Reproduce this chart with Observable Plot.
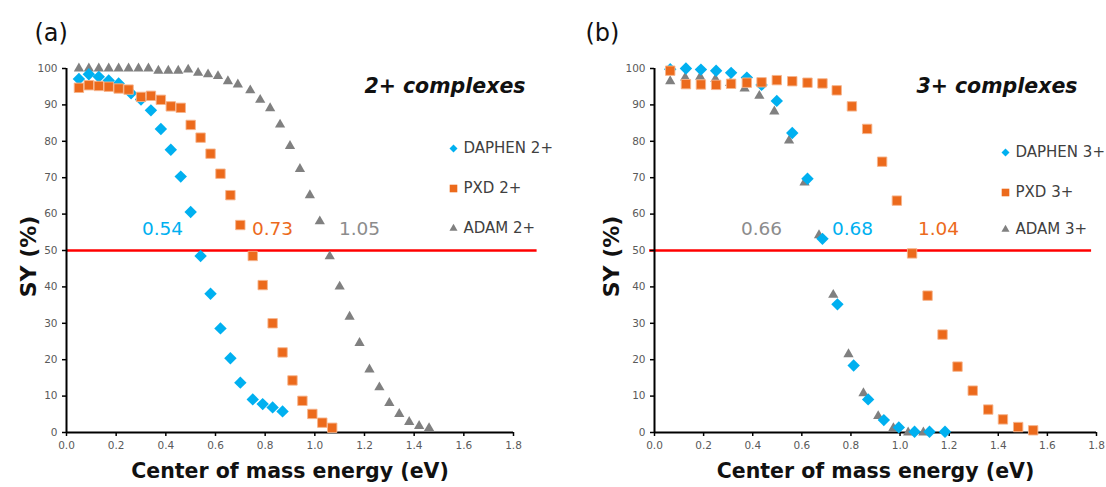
<!DOCTYPE html>
<html>
<head>
<meta charset="utf-8">
<script src="https://cdn.jsdelivr.net/npm/d3@7"></script>
<script src="https://cdn.jsdelivr.net/npm/@observablehq/plot@0.6"></script>
<style>
  html, body { margin: 0; padding: 0; background: #ffffff; }
  #wrap { display: flex; width: 1106px; height: 487px; overflow: hidden; }
  #wrap svg { display: block; overflow: visible; }
</style>
</head>
<body>
<div id="wrap"></div>
<script>
// ---- Survival yield (%) vs centre-of-mass collision energy (eV) ----

// 2+ complexes
const eDaphen2  = [0.05,0.09,0.13,0.17,0.21,0.26,0.30,0.34,0.38,0.42,0.46,0.50,0.54,0.58,0.62,0.66,0.70,0.75,0.79,0.83,0.87];
const syDaphen2 = [97.1,98.4,97.7,96.7,95.9,93.2,91.5,88.5,83.4,77.7,70.3,60.6,48.5,38.1,28.6,20.4,13.7,9.1,7.8,6.9,5.8];

const ePxd2  = [0.05,0.09,0.13,0.17,0.21,0.25,0.30,0.34,0.38,0.42,0.46,0.50,0.54,0.58,0.62,0.66,0.70,0.75,0.79,0.83,0.87,0.91,0.95,0.99,1.03,1.07];
const syPxd2 = [94.7,95.4,95.2,95.0,94.5,94.2,92.2,92.5,91.4,89.6,89.2,84.5,81.0,76.6,71.1,65.2,57.0,48.5,40.5,30.0,22.0,14.3,8.7,5.1,2.7,1.3];

const eAdam2  = [0.05,0.09,0.13,0.17,0.21,0.25,0.29,0.33,0.37,0.41,0.45,0.49,0.53,0.57,0.61,0.65,0.69,0.74,0.78,0.82,0.86,0.90,0.94,0.98,1.02,1.06,1.10,1.14,1.18,1.22,1.26,1.30,1.34,1.38,1.42,1.46];
const syAdam2 = [100,100,100,100,100,100,100,100,99.4,99.4,99.4,99.7,98.8,98.4,97.9,96.5,95.6,94.0,91.4,89.1,84.6,78.7,72.4,65.2,58.0,48.4,40.1,31.8,24.6,17.3,12.4,8.1,5.1,2.9,1.8,1.2];

// 3+ complexes
const eDaphen3  = [0.064,0.128,0.189,0.251,0.312,0.376,0.436,0.498,0.561,0.623,0.684,0.745,0.811,0.870,0.934,0.995,1.059,1.120,1.183];
const syDaphen3 = [99.8,100,99.7,99.4,98.8,97.5,95.5,91.1,82.3,69.7,53.2,35.2,18.4,9.1,3.4,1.4,0.2,0.2,0.2];

const ePxd3  = [0.064,0.128,0.189,0.251,0.312,0.376,0.436,0.498,0.561,0.623,0.684,0.742,0.804,0.866,0.927,0.987,1.049,1.112,1.173,1.234,1.296,1.359,1.419,1.481,1.542];
const syPxd3 = [99.4,95.7,95.6,95.5,95.8,96.1,96.2,96.8,96.5,96.1,95.9,94.0,89.6,83.4,74.4,63.7,49.2,37.6,26.9,18.1,11.5,6.3,3.6,1.5,0.6];

const eAdam3  = [0.064,0.125,0.186,0.248,0.308,0.367,0.427,0.488,0.548,0.611,0.670,0.728,0.790,0.851,0.911,0.973,1.033,1.095];
const syAdam3 = [96.5,97.5,97.7,97.1,96.0,94.5,92.5,88.2,80.2,68.7,54.2,37.8,21.5,10.8,4.5,1.2,0,0];

// Series names, 50 % crossing energies (SY50) and threshold
const names2 = ["DAPHEN 2+", "PXD 2+", "ADAM 2+"];
const names3 = ["DAPHEN 3+", "PXD 3+", "ADAM 3+"];
const sy50_2 = {daphen: 0.54, pxd: 0.73, adam: 1.05};
const sy50_3 = {daphen: 0.68, pxd: 1.04, adam: 0.66};
const threshold = 50;

// Axis ticks
const xTicks = [0, 0.2, 0.4, 0.6, 0.8, 1.0, 1.2, 1.4, 1.6, 1.8];
const yTicks = [0, 10, 20, 30, 40, 50, 60, 70, 80, 90, 100];

// ---- styling ----
const FONT = "DejaVu Sans, sans-serif";
const BLUE = "#00B0F0", ORANGE = "#EC6A1C", GRAY = "#808080";
const LABEL_GRAY = "#8c8c8c", TICK_GRAY = "#5a5a5a", LEGEND_TEXT = "#404040";
const SYMBOL = {daphen: "diamond2", pxd: "square", adam: "triangle"};
const COLOR = {daphen: BLUE, pxd: ORANGE, adam: GRAY};
const LABEL_COLOR = {daphen: BLUE, pxd: ORANGE, adam: LABEL_GRAY};
const R_PLOT = {daphen: 5.6, pxd: 5.3, adam: 3.8};
const R_LEGEND = {daphen: 3.6, pxd: 4.3, adam: 3.0};

const zip = (xs, ys) => xs.map((x, i) => ({x, y: ys[i]}));

function series(key, xs, ys) {
  return Plot.dot(zip(xs, ys), {
    x: "x", y: "y", symbol: SYMBOL[key], r: R_PLOT[key], fill: COLOR[key],
    stroke: key === "pxd" ? "#f6b48c" : "none", strokeWidth: 0.9
  });
}

function panel(cfg) {
  const fr = {fontFamily: FONT};
  const keys = ["daphen", "pxd", "adam"];
  const marks = [
    // SY50 threshold
    Plot.ruleY([{y: threshold, x1: cfg.lineFrom, x2: cfg.lineTo}], {y: "y", x1: "x1", x2: "x2", stroke: "#FF0000", strokeWidth: 2.4}),
    // axes
    Plot.axisY(yTicks, {tickSize: 4, tickPadding: 5, stroke: "#000", strokeWidth: 1.5, color: TICK_GRAY, fontSize: 10.5, fontFamily: FONT, label: null}),
    Plot.axisX(xTicks, {tickSize: 4, tickPadding: 5, stroke: "#000", strokeWidth: 1.5, color: TICK_GRAY, fontSize: 10.5, fontFamily: FONT, tickFormat: d3.format(".1f"), label: null}),
    Plot.ruleX([0], {stroke: "#000", strokeWidth: 2}),
    Plot.ruleY([0], {stroke: "#000", strokeWidth: 2}),
    // data (gray behind, then blue, then orange)
    series("adam", ...cfg.adam),
    series("daphen", ...cfg.daphen),
    series("pxd", ...cfg.pxd),
    // panel tag and title
    Plot.text([cfg.tag], {frameAnchor: "top-left", lineAnchor: "middle", dx: cfg.tagDx, dy: -35, fontSize: 24, fill: "#111", ...fr}),
    Plot.text([cfg.title], {frameAnchor: "top-right", lineAnchor: "middle", textAnchor: "end", dx: cfg.titleDx, dy: 18, fontSize: 20.5, fontWeight: "bold", fontStyle: "italic", fill: "#111", ...fr}),
    // axis titles
    Plot.text(["SY (%)"], {frameAnchor: "left", textAnchor: "middle", lineAnchor: "middle", rotate: -90, dx: cfg.yLabelDx, dy: 6, fontSize: 22, fontWeight: "bold", fill: "#111", ...fr}),
    Plot.text(["Center of mass energy (eV)"], {frameAnchor: "bottom", textAnchor: "middle", lineAnchor: "middle", dy: 39, fontSize: 20.5, fontWeight: "bold", fill: "#111", ...fr}),
  ];
  // SY50 value labels
  for (const k of keys) {
    marks.push(Plot.text([cfg.sy50[k]], {
      text: d => d.toFixed(2), frameAnchor: "top-left", textAnchor: "middle", lineAnchor: "middle",
      dx: cfg.labelDx[k], dy: 161, fontSize: 18.5, fill: LABEL_COLOR[k], ...fr
    }));
  }
  // legend
  keys.forEach((k, i) => {
    marks.push(Plot.dot([cfg.names[i]], {frameAnchor: "top-right", dx: cfg.legendDx, dy: cfg.legendDy[i],
      symbol: SYMBOL[k], r: R_LEGEND[k], fill: COLOR[k]}));
    marks.push(Plot.text([cfg.names[i]], {frameAnchor: "top-right", textAnchor: "start", lineAnchor: "middle",
      dx: cfg.legendDx + 10, dy: cfg.legendDy[i], fontSize: 15, fill: LEGEND_TEXT, ...fr}));
  });
  return Plot.plot({
    width: cfg.width, height: 487,
    marginLeft: cfg.marginLeft, marginRight: cfg.marginRight, marginTop: 68, marginBottom: 55,
    x: {domain: [0, 1.8], axis: null},
    y: {domain: [0, 100], axis: null},
    style: {background: "transparent", fontFamily: FONT, overflow: "visible"},
    marks
  });
}

const wrap = document.getElementById("wrap");

wrap.append(panel({
  width: 560, marginLeft: 66, marginRight: 47,
  names: names2, sy50: sy50_2,
  daphen: [eDaphen2, syDaphen2], pxd: [ePxd2, syPxd2], adam: [eAdam2, syAdam2],
  lineFrom: 0, lineTo: 1.895,
  labelDx: {daphen: 96, pxd: 206, adam: 293},
  tag: "(a)", tagDx: -32, title: "2+ complexes", titleDx: 12,
  yLabelDx: -38, legendDx: -60, legendDy: [80, 120, 160]
}));

wrap.append(panel({
  width: 546, marginLeft: 94, marginRight: 10,
  names: names3, sy50: sy50_3,
  daphen: [eDaphen3, syDaphen3], pxd: [ePxd3, syPxd3], adam: [eAdam3, syAdam3],
  lineFrom: -0.02, lineTo: 1.78,
  labelDx: {adam: 107, daphen: 198, pxd: 284},
  tag: "(b)", tagDx: -69, title: "3+ complexes", titleDx: -19,
  yLabelDx: -43, legendDx: -91, legendDy: [84, 124, 161]
}));
</script>
</body>
</html>
